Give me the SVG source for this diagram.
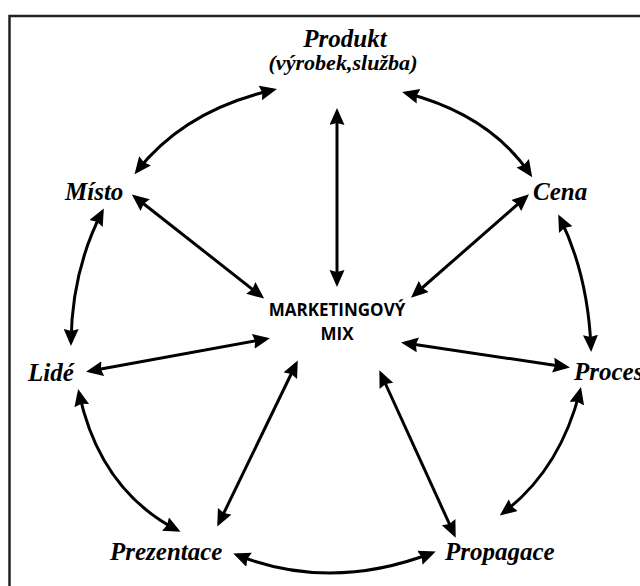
<svg xmlns="http://www.w3.org/2000/svg" width="640" height="586" viewBox="0 0 640 586">
<style>
.lbl{font-family:"Liberation Serif","Times New Roman",serif;font-style:italic;font-weight:bold;font-size:25px;fill:#000}
.sub{font-size:20px}
.mix{font-family:"Open Sans","Liberation Sans",sans-serif;font-weight:bold;font-size:17px;fill:#000}
.c{fill:none;stroke:#000;stroke-width:3;marker-start:url(#ah);marker-end:url(#ah)}
</style>
<defs>
<marker id="ah" markerUnits="userSpaceOnUse" markerWidth="19" markerHeight="17" refX="13" refY="7.5" orient="auto-start-reverse" viewBox="0 0 19 17">
<path d="M0,0 L17,7.5 L0,15 L2,7.5 z" fill="#000"/>
</marker>
</defs>
<rect x="0" y="0" width="640" height="586" fill="#fff"/>
<path d="M9.5,600 L9.5,16 L650,16" fill="none" stroke="#222" stroke-width="2.5"/>
<g id="connectors">
<path class="c" d="M273,90 Q185,110 137,171"/>
<path class="c" d="M406,93 Q490,115 530,174"/>
<path class="c" d="M102,212 Q72,270 71,342"/>
<path class="c" d="M560,218 Q588,275 591,348"/>
<path class="c" d="M79,393 Q100,490 177,530"/>
<path class="c" d="M580,391 Q560,470 503,513"/>
<path class="c" d="M237,555 Q330,592 432,553"/>
<path class="c" d="M337,112 L337,283"/>
<path class="c" d="M135,197 L261,296"/>
<path class="c" d="M526,197 L414,295"/>
<path class="c" d="M90,371 L266,339"/>
<path class="c" d="M566,367 L405,343"/>
<path class="c" d="M296,364 L219,523"/>
<path class="c" d="M381,374 L454,534"/>
</g>
<g id="produkt">
<text class="lbl" x="345" y="47" text-anchor="middle">Produkt</text>
<text class="lbl sub" x="343" y="70" text-anchor="middle" textLength="149" lengthAdjust="spacingAndGlyphs">(výrobek,služba)</text>
</g>
<g id="misto"><text class="lbl" x="65" y="200">Místo</text></g>
<g id="cena"><text class="lbl" x="533" y="200">Cena</text></g>
<g id="lide"><text class="lbl" x="28" y="381">Lidé</text></g>
<g id="proces"><text class="lbl" x="574" y="380">Proces</text></g>
<g id="prezentace"><text class="lbl" x="110" y="560">Prezentace</text></g>
<g id="propagace"><text class="lbl" x="445" y="560">Propagace</text></g>
<g id="mix">
<text class="mix" x="337" y="316" text-anchor="middle">MARKETINGOVÝ</text>
<text class="mix" x="337" y="340" text-anchor="middle">MIX</text>
</g>
</svg>
